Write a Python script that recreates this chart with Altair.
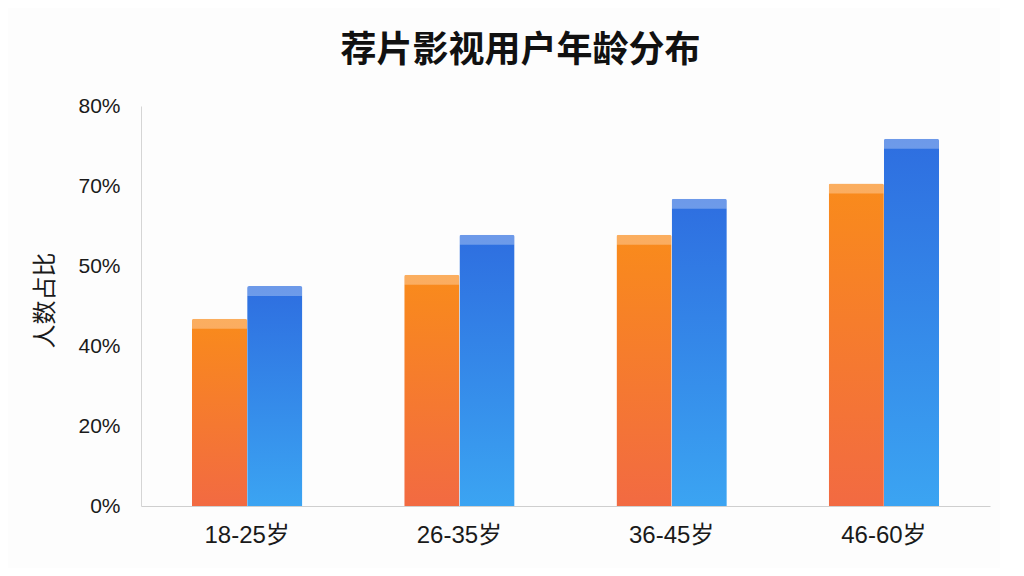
import altair as alt
import pandas as pd

ages = ["18-25岁", "26-35岁", "36-45岁", "46-60岁"]
series_a = [43.4, 48.9, 57.8, 70.3]
series_b = [47.5, 57.8, 66.8, 75.9]
series_names = ["系列A", "系列B"]
tick_vals = [0, 20, 40, 50, 70, 80]

rows = []
for i, a in enumerate(ages):
    rows.append({"age": a, "s": series_names[0], "v": series_a[i]})
    rows.append({"age": a, "s": series_names[1], "v": series_b[i]})
df = pd.DataFrame(rows)

W, H = 849, 400
font = "Liberation Sans, Noto Sans CJK SC"
cjk = "Noto Sans CJK SC"

x_enc = alt.X("age:N", sort=ages, title=None,
              scale=alt.Scale(paddingInner=0.48, paddingOuter=0.24),
              axis=alt.Axis(labelAngle=0, labelFontSize=24, labelColor="#1a1a1a",
                            labelFont=font, ticks=False, labelPadding=17,
                            domainColor="#cfcfcf", domainWidth=1))
xo = alt.XOffset("s:N", scale=alt.Scale(domain=series_names, paddingInner=0, paddingOuter=0))
y_enc = alt.Y("v:Q", title="人数占比",
              scale=alt.Scale(domain=tick_vals, range=[H, 320, 240, 160, 80, 0], clamp=True),
              axis=alt.Axis(values=tick_vals, labelExpr="datum.value + '%'", grid=False,
                            ticks=False, labelFontSize=21, labelColor="#1a1a1a", labelFont=font,
                            labelPadding=21, titleFontSize=24, titleFont=cjk,
                            titleFontWeight="normal", titleColor="#1a1a1a",
                            titleX=-96, titleY=194, titleAngle=-90, titleBaseline="middle",
                            titleAlign="center",
                            domainColor="#d5d5d5", domainWidth=1))

orange = alt.Gradient(gradient="linear", x1=0, y1=0, x2=0, y2=1,
                      stops=[alt.GradientStop(color="#F98B1B", offset=0),
                             alt.GradientStop(color="#F26A42", offset=1)])
blue = alt.Gradient(gradient="linear", x1=0, y1=0, x2=0, y2=1,
                    stops=[alt.GradientStop(color="#2E6EE0", offset=0),
                           alt.GradientStop(color="#3BA4F2", offset=1)])

base = alt.Chart(df)
bar_a = base.transform_filter(alt.datum.s == series_names[0]).mark_bar(
    fill=orange, cornerRadiusTopLeft=2, cornerRadiusTopRight=2
).encode(x=x_enc, xOffset=xo, y=y_enc)
bar_b = base.transform_filter(alt.datum.s == series_names[1]).mark_bar(
    fill=blue, cornerRadiusTopLeft=2, cornerRadiusTopRight=2
).encode(x=x_enc, xOffset=xo, y=y_enc)
caps = base.mark_tick(color="white", opacity=0.3, thickness=10, size=55, yOffset=5).encode(
    x=x_enc, xOffset=xo, y=y_enc)

chart = alt.layer(bar_a, bar_b, caps).properties(
    width=W, height=H,
    title=alt.TitleParams("荐片影视用户年龄分布", fontSize=36, fontWeight="bold", font=cjk,
                          color="#111111", anchor="middle", dx=-45, offset=25),
    autosize=alt.AutoSizeParams(type="none"),
    padding={"left": 133, "top": 98, "right": 10, "bottom": 62},
    background="#fdfdfd",
).configure_view(stroke=None)

chart.save("out.html", embed_options={"renderer": "svg", "actions": False})
